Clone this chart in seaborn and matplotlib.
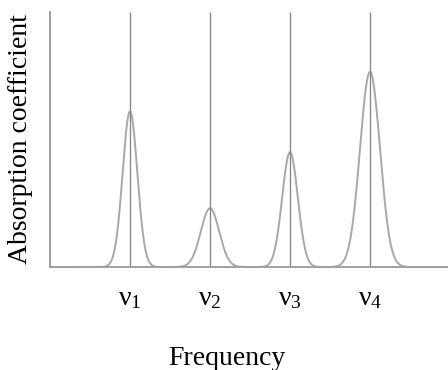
import numpy as np
import pandas as pd
import matplotlib
matplotlib.use("Agg")
import matplotlib.pyplot as plt
import seaborn as sns

# peak data (frequency units, arbitrary height)
peak_labels = ["ν$_1$", "ν$_2$", "ν$_3$", "ν$_4$"]
peak_centers = [1.0, 2.0, 3.0, 4.0]
peak_heights = [0.61, 0.23, 0.45, 0.765]
peak_widths = [0.092, 0.115, 0.098, 0.125]

sns.set_style("white")
plt.rcParams["font.family"] = ["Liberation Serif", "DejaVu Serif"]
plt.rcParams["mathtext.fontset"] = "custom"
plt.rcParams["mathtext.rm"] = "Liberation Serif"
plt.rcParams["mathtext.it"] = "Liberation Serif"
plt.rcParams["text.color"] = "black"
plt.rcParams["axes.labelcolor"] = "black"
plt.rcParams["xtick.color"] = "black"

# spectrum = sum of gaussian bands
freq = np.linspace(0, 4.975, 1200)
absorb = np.zeros_like(freq)
for c, h, w in zip(peak_centers, peak_heights, peak_widths):
    absorb += h * np.exp(-0.5 * ((freq - c) / w) ** 2)
df = pd.DataFrame({"freq": freq, "absorb": absorb})

fig = plt.figure(figsize=(4.48, 3.70), dpi=100)
ax = fig.add_axes([50 / 448, 103 / 370, 398 / 448, 255 / 370])

sns.lineplot(data=df, x="freq", y="absorb", ax=ax, color="#a8a8a8", linewidth=1.4)
ax.vlines(peak_centers, 0, 1, color="#8a8a8a", linewidth=1.0)

ax.set_xlim(0, 4.975)
ax.set_ylim(0, 1)
ax.set_xticks(peak_centers)
ax.set_xticklabels(peak_labels, fontsize=20)
ax.set_yticks([])
ax.tick_params(axis="x", length=0, pad=14, labelcolor="black")

ax.set_xlabel("Frequency", fontsize=20)
ax.xaxis.set_label_coords((227 - 50) / 398, -0.31)
ax.set_ylabel("Absorption coefficient", fontsize=20)
ax.yaxis.set_label_coords(-0.043, 0.5)

sns.despine(ax=ax, top=True, right=True)
for side in ["left", "bottom"]:
    ax.spines[side].set_color("#a0a0a0")
    ax.spines[side].set_linewidth(1.4)

fig.savefig("out.png", dpi=100)
